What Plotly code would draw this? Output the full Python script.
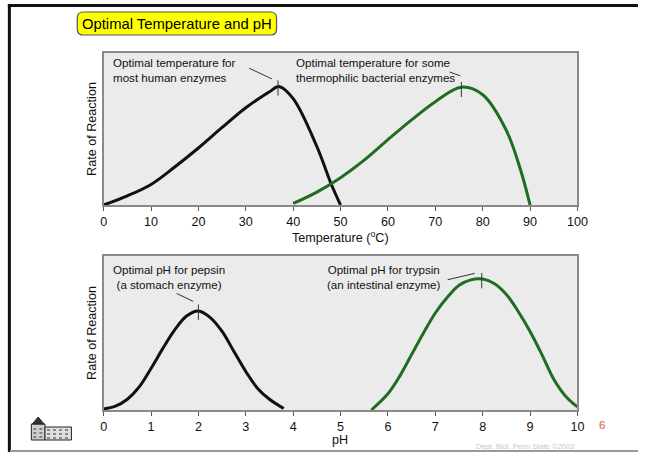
import plotly.graph_objects as go

W, H = 650, 453

# ---------------- data ----------------
temp_human_x = [0, 5, 10, 15, 20, 25, 30, 35, 37, 40, 45, 48, 50]
temp_human_y = [0, 0.06, 0.135, 0.25, 0.375, 0.51, 0.64, 0.745, 0.78, 0.70, 0.385, 0.14, 0]

temp_thermo_x = [40, 45, 50, 55, 60, 65, 70, 75.5, 80, 85, 88, 90]
temp_thermo_y = [0.01, 0.085, 0.18, 0.295, 0.43, 0.56, 0.68, 0.775, 0.725, 0.49, 0.23, 0]

ph_pepsin_x = [0, 0.25, 0.5, 0.75, 1, 1.25, 1.5, 1.75, 2, 2.25, 2.5, 2.75, 3, 3.25, 3.5, 3.8]
ph_pepsin_y = [0.007, 0.025, 0.07, 0.15, 0.27, 0.40, 0.52, 0.61, 0.643, 0.60, 0.51, 0.38,
               0.25, 0.14, 0.07, 0.01]

ph_trypsin_x = [5.65, 6, 6.25, 6.5, 6.75, 7, 7.25, 7.5, 7.75, 8, 8.25, 8.5, 8.75, 9, 9.25,
                9.5, 9.75, 10]
ph_trypsin_y = [0, 0.105, 0.22, 0.36, 0.50, 0.63, 0.73, 0.81, 0.845, 0.85, 0.82, 0.75, 0.64,
                0.51, 0.36, 0.20, 0.09, 0.02]

temp_ticks = list(range(0, 101, 10))
ph_ticks = list(range(0, 11, 1))

# optimum (peak) positions
temp_peaks = [(36.8, 0.77), (75.5, 0.76)]
ph_peaks = [(2.0, 0.635), (7.98, 0.84)]

BLACK = "#111111"
GREEN = "#1f6e1f"


def X(px):
    return px / W


def Y(py):
    return 1 - py / H


fig = go.Figure()

fig.add_trace(go.Scatter(x=temp_human_x, y=temp_human_y, mode="lines",
                         line=dict(color=BLACK, width=3, shape="spline", smoothing=1),
                         xaxis="x", yaxis="y", hoverinfo="skip"))
fig.add_trace(go.Scatter(x=temp_thermo_x, y=temp_thermo_y, mode="lines",
                         line=dict(color=GREEN, width=3, shape="spline", smoothing=1),
                         xaxis="x", yaxis="y", hoverinfo="skip"))
fig.add_trace(go.Scatter(x=ph_pepsin_x, y=ph_pepsin_y, mode="lines",
                         line=dict(color=BLACK, width=3, shape="spline", smoothing=1),
                         xaxis="x2", yaxis="y2", hoverinfo="skip"))
fig.add_trace(go.Scatter(x=ph_trypsin_x, y=ph_trypsin_y, mode="lines",
                         line=dict(color=GREEN, width=3, shape="spline", smoothing=1),
                         xaxis="x2", yaxis="y2", hoverinfo="skip"))

shapes = []
# peak tick marks
for (px_, py_) in temp_peaks:
    shapes.append(dict(type="line", xref="x", yref="y", x0=px_, x1=px_,
                       y0=py_ - 0.05, y1=py_ + 0.05, line=dict(color="#333", width=1)))
for (px_, py_) in ph_peaks:
    shapes.append(dict(type="line", xref="x2", yref="y2", x0=px_, x1=px_,
                       y0=py_ - 0.05, y1=py_ + 0.05, line=dict(color="#333", width=1)))
# leader lines
shapes += [
    dict(type="line", xref="x", yref="y", x0=30.7, y0=0.90, x1=35.5, y1=0.83,
         line=dict(color="#333", width=1)),
    dict(type="line", xref="x", yref="y", x0=73.0, y0=0.875, x1=75.3, y1=0.85,
         line=dict(color="#333", width=1)),
    dict(type="line", xref="x2", yref="y2", x0=1.54, y0=0.757, x1=1.89, y1=0.705,
         line=dict(color="#333", width=1)),
    dict(type="line", xref="x2", yref="y2", x0=7.26, y0=0.846, x1=7.83, y1=0.887,
         line=dict(color="#333", width=1)),
]

# slide frame
shapes += [
    dict(type="line", xref="paper", yref="paper", x0=X(4), x1=X(649), y0=Y(5.5), y1=Y(5.5),
         line=dict(color="#111", width=3)),
    dict(type="line", xref="paper", yref="paper", x0=X(5.5), x1=X(5.5), y0=Y(4), y1=Y(452),
         line=dict(color="#111", width=3)),
    dict(type="line", xref="paper", yref="paper", x0=X(6), x1=X(649), y0=Y(451), y1=Y(451),
         line=dict(color="#999", width=2)),
]

# title box (rounded)
x0, x1, y0, y1, r = 75, 279, 12, 35, 6
path = (f"M {X(x0 + r)},{Y(y0)} L {X(x1 - r)},{Y(y0)} "
        f"Q {X(x1)},{Y(y0)} {X(x1)},{Y(y0 + r)} L {X(x1)},{Y(y1 - r)} "
        f"Q {X(x1)},{Y(y1)} {X(x1 - r)},{Y(y1)} L {X(x0 + r)},{Y(y1)} "
        f"Q {X(x0)},{Y(y1)} {X(x0)},{Y(y1 - r)} L {X(x0)},{Y(y0 + r)} "
        f"Q {X(x0)},{Y(y0)} {X(x0 + r)},{Y(y0)} Z")
shapes.append(dict(type="path", xref="paper", yref="paper", path=path,
                   fillcolor="#ffff00", line=dict(color="#555", width=1.2)))

# building logo (approximation)
shapes += [
    dict(type="rect", xref="paper", yref="paper", x0=X(28), x1=X(42), y0=Y(440), y1=Y(424),
         fillcolor="#cfcfcf", line=dict(color="#222", width=1)),
    dict(type="path", xref="paper", yref="paper",
         path=f"M {X(29)},{Y(424)} L {X(35)},{Y(417)} L {X(41)},{Y(424)} Z",
         fillcolor="#333", line=dict(color="#222", width=1)),
    dict(type="rect", xref="paper", yref="paper", x0=X(42), x1=X(69), y0=Y(440), y1=Y(427),
         fillcolor="#e0e0e0", line=dict(color="#222", width=1)),
]
for wy in [430, 434, 438]:
    shapes.append(dict(type="line", xref="paper", yref="paper", x0=X(44), x1=X(67),
                       y0=Y(wy), y1=Y(wy), line=dict(color="#333", width=1.2, dash="dot")))
    shapes.append(dict(type="line", xref="paper", yref="paper", x0=X(30), x1=X(40),
                       y0=Y(wy - 1), y1=Y(wy - 1), line=dict(color="#333", width=1.2, dash="dot")))

FONT = "Liberation Sans, Arial, sans-serif"
ann_font = dict(family=FONT, size=11.6, color="#111")
lab_font = dict(family=FONT, size=12.6, color="#111")
annotations = [
    dict(text="Optimal Temperature and pH", x=X(177), y=Y(23.5), xref="paper", yref="paper",
         showarrow=False, font=dict(family=FONT, size=14.8, color="#000"),
         xanchor="center", yanchor="middle"),
    dict(text="Optimal temperature for<br>most human enzymes", x=X(110), y=Y(70),
         xref="paper", yref="paper", showarrow=False, font=ann_font, align="left",
         xanchor="left", yanchor="middle"),
    dict(text="Optimal temperature for some<br>thermophilic bacterial enzymes", x=X(297), y=Y(70),
         xref="paper", yref="paper", showarrow=False, font=ann_font, align="left",
         xanchor="left", yanchor="middle"),
    dict(text="Optimal pH for pepsin<br>(a stomach enzyme)", x=X(169), y=Y(277),
         xref="paper", yref="paper", showarrow=False, font=ann_font, align="center",
         xanchor="center", yanchor="middle"),
    dict(text="Optimal pH for trypsin<br>(an intestinal enzyme)", x=X(389), y=Y(277),
         xref="paper", yref="paper", showarrow=False, font=ann_font, align="center",
         xanchor="center", yanchor="middle"),
    dict(text="Rate of Reaction", x=X(90), y=Y(129), xref="paper", yref="paper",
         showarrow=False, textangle=-90, font=lab_font,
         xanchor="center", yanchor="middle"),
    dict(text="Rate of Reaction", x=X(90), y=Y(333), xref="paper", yref="paper",
         showarrow=False, textangle=-90, font=lab_font,
         xanchor="center", yanchor="middle"),
    dict(text="Temperature (<sup>o</sup>C)", x=X(344), y=Y(237), xref="paper", yref="paper",
         showarrow=False, font=lab_font, xanchor="center", yanchor="middle"),
    dict(text="pH", x=X(344), y=Y(440), xref="paper", yref="paper",
         showarrow=False, font=lab_font, xanchor="center", yanchor="middle"),
    dict(text="6", x=X(612), y=Y(425), xref="paper", yref="paper", showarrow=False,
         font=dict(family=FONT, size=11.5, color="#e0552a"), xanchor="center", yanchor="middle"),
    dict(text="Dept. Biol. Penn State ©2003", x=X(533), y=Y(446), xref="paper", yref="paper",
         showarrow=False, font=dict(family=FONT, size=7.5, color="#c8c8c8"),
         xanchor="center", yanchor="middle"),
]

xcommon = dict(showgrid=False, zeroline=False, showline=True, mirror=True,
               linecolor="#8a8a8a", linewidth=1.5, ticks="outside", ticklen=4,
               tickcolor="#555", tickfont=dict(family=FONT, size=12.6, color="#111"),
               fixedrange=True)
ycommon = dict(showgrid=False, zeroline=False, showline=True, mirror=True,
               linecolor="#8a8a8a", linewidth=1.5, showticklabels=False, ticks="",
               range=[0, 1], fixedrange=True)

fig.update_layout(
    width=W, height=H, autosize=False, margin=dict(l=0, r=0, t=0, b=0),
    paper_bgcolor="white", plot_bgcolor="#ebebeb", showlegend=False,
    xaxis=dict(domain=[X(102), X(587)], range=[0, 100], tickvals=temp_ticks,
               anchor="y", **xcommon),
    yaxis=dict(domain=[Y(205), Y(53)], anchor="x", **ycommon),
    xaxis2=dict(domain=[X(102), X(587)], range=[0, 10], tickvals=ph_ticks,
                anchor="y2", **xcommon),
    yaxis2=dict(domain=[Y(410), Y(256)], anchor="x2", **ycommon),
    shapes=shapes, annotations=annotations,
)

post = (
    "var s=document.createElement('style');"
    "s.textContent='html,body{margin:0;padding:0;overflow:hidden;width:650px;height:453px;}';"
    "document.head.appendChild(s);"
    "var gd=document.getElementById('{plot_id}');"
    "gd.style.position='absolute';gd.style.left='0px';gd.style.top='0px';"
    "Plotly.relayout(gd,{width:650,height:453});"
)
fig.write_html("out.html", config={"displayModeBar": False, "responsive": False},
               post_script=post)
